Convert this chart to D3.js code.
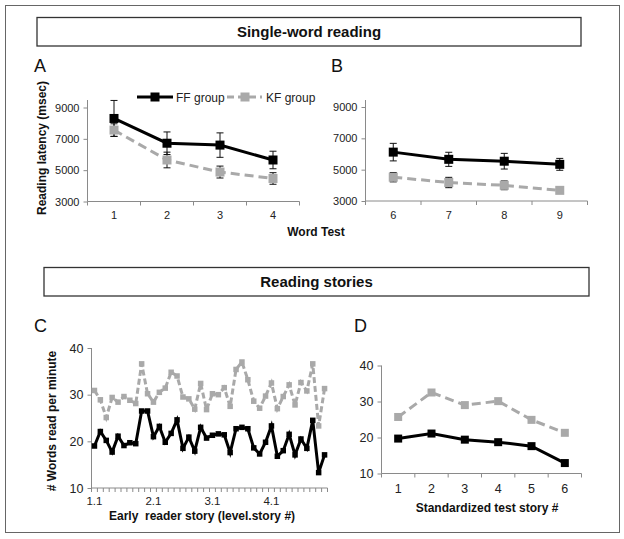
<!DOCTYPE html>
<html><head><meta charset="utf-8">
<script src="https://cdn.jsdelivr.net/npm/d3@7"></script>
<style>
html,body{margin:0;padding:0;background:#fff;}
svg{display:block;font-family:"Liberation Sans",Arial,sans-serif;}
</style></head>
<body><svg id="c" width="624" height="539"></svg>
<script>
// ---------- DATA ----------
const groups = ["FF group", "KF group"];
const wordTestsA = ["1", "2", "3", "4"];
const wordTestsB = ["6", "7", "8", "9"];
const ffA = [8300, 6720, 6600, 5650];
const ffAerr = [1150, 720, 780, 560];
const kfA = [7560, 5650, 4880, 4470];
const kfAerr = [400, 500, 380, 370];
const ffB = [6120, 5660, 5540, 5340];
const ffBerr = [560, 450, 500, 380];
const kfB = [4520, 4180, 4000, 3680];
const kfBerr = [300, 330, 280, 200];
const latencyTicks = [3000, 5000, 7000, 9000];

const storiesC = [];
[1, 2, 3, 4].forEach(l => { for (let s = 1; s <= 10; s++) storiesC.push(l + "." + s); });
const storyTickLabels = ["1.1", "2.1", "3.1", "4.1"];
const ffC = [19.0,22.1,20.2,17.7,21.1,19.1,19.7,19.5,26.5,26.5,
             21.0,23.2,19.8,21.7,24.6,18.5,20.9,17.9,23.0,20.7,
             21.3,21.6,21.4,17.6,22.7,23.0,22.7,18.6,17.3,19.8,
             23.3,16.8,18.0,21.5,17.1,20.5,18.5,24.5,13.3,17.1];
const kfC = [30.9,28.9,25.1,29.4,28.4,29.6,28.8,28.1,36.6,30.2,
             28.4,30.5,31.4,34.8,34.0,29.5,29.1,26.9,32.4,26.8,
             30.2,30.0,31.5,27.5,35.4,37.0,33.2,28.6,27.1,29.7,
             32.5,27.0,29.6,32.1,27.8,32.6,30.8,36.6,23.3,31.3];
const storiesD = ["1", "2", "3", "4", "5", "6"];
const ffD = [19.7, 21.1, 19.4, 18.7, 17.6, 12.9];
const kfD = [25.7, 32.5, 29.0, 30.1, 24.9, 21.3];
const wpmTicks = [10, 20, 30, 40];

// ---------- STYLE ----------
const BLACK = "#000", GRAY = "#a9a9a9", AXIS = "#8a8a8a", TEXT = "#222";
const svg = d3.select("#c");
svg.append("rect").attr("width", 624).attr("height", 539).attr("fill", "#fff");
svg.append("rect").attr("x", 5.5).attr("y", 5.5).attr("width", 614).attr("height", 527)
  .attr("fill", "none").attr("stroke", "#666").attr("stroke-width", 1);

function header(x, y, w, h, text) {
  svg.append("rect").attr("x", x).attr("y", y).attr("width", w).attr("height", h)
    .attr("fill", "#fff").attr("stroke", "#333").attr("stroke-width", 1.3);
  svg.append("text").attr("x", x + w / 2).attr("y", y + h / 2 + 5)
    .attr("text-anchor", "middle").attr("font-size", 15).attr("font-weight", "bold")
    .attr("fill", "#111").text(text);
}
header(37, 17.5, 544, 28.5, "Single-word reading");
header(44, 267.5, 545, 28.5, "Reading stories");

function panelLabel(x, y, t) {
  svg.append("text").attr("x", x).attr("y", y).attr("font-size", 18).attr("fill", "#111").text(t);
}
panelLabel(34, 72, "A");
panelLabel(331, 72, "B");
panelLabel(34, 332, "C");
panelLabel(354, 332, "D");

function panel(o) {
  const g = svg.append("g");
  const x = d3.scaleBand().domain(o.cats).range([o.x0, o.x1]);
  const y = d3.scaleLinear().domain(o.yDomain).range([o.yBottom, o.yTop]);
  // y axis
  const ya = d3.axisLeft(y).tickValues(o.yTicks).tickSize(4).tickPadding(4)
    .tickFormat(d3.format("d"));
  const yg = g.append("g").attr("transform", `translate(${o.x0},0)`).call(ya);
  yg.select(".domain").remove();
  g.append("line").attr("x1", o.x0).attr("x2", o.x0)
    .attr("y1", o.yBottom).attr("y2", o.axisTop !== undefined ? o.axisTop : o.yTop)
    .attr("stroke", AXIS);
  yg.selectAll(".tick line").attr("stroke", AXIS);
  yg.selectAll(".tick text").attr("font-size", o.yFont).attr("fill", TEXT)
    .attr("font-family", '"Liberation Sans",Arial,sans-serif');
  // x axis: line + boundary ticks + labels
  g.append("line").attr("x1", o.x0).attr("x2", o.x1).attr("y1", o.yBottom).attr("y2", o.yBottom)
    .attr("stroke", AXIS);
  const bounds = o.cats.map(c => x(c)).concat([o.x1]);
  g.selectAll(".bt").data(bounds).enter().append("line")
    .attr("x1", d => d).attr("x2", d => d).attr("y1", o.yBottom).attr("y2", o.yBottom + 4)
    .attr("stroke", AXIS);
  const labelCats = o.labelCats || o.cats;
  g.selectAll(".xl").data(labelCats).enter().append("text")
    .attr("x", d => x(d) + x.bandwidth() / 2).attr("y", o.xLabelY)
    .attr("text-anchor", "middle").attr("font-size", o.xFont).attr("fill", TEXT).text(d => d);

  const line = d3.line().x((d, i) => x(o.cats[i]) + x.bandwidth() / 2).y(d => y(d));
  const series = [
    { v: o.kf, e: o.kfErr, color: GRAY, dash: o.dash },
    { v: o.ff, e: o.ffErr, color: BLACK, dash: null }
  ];
  series.forEach(s => {
    if (s.e) {
      s.v.forEach((v, i) => {
        const cx = x(o.cats[i]) + x.bandwidth() / 2;
        g.append("line").attr("x1", cx).attr("x2", cx).attr("y1", y(v - s.e[i])).attr("y2", y(v + s.e[i]))
          .attr("stroke", "#111").attr("stroke-width", 1);
        [v - s.e[i], v + s.e[i]].forEach(w => {
          g.append("line").attr("x1", cx - 3.5).attr("x2", cx + 3.5).attr("y1", y(w)).attr("y2", y(w))
            .attr("stroke", "#111").attr("stroke-width", 1);
        });
      });
    }
  });
  series.forEach(s => {
    g.append("path").datum(s.v).attr("d", line).attr("fill", "none").attr("stroke", s.color)
      .attr("stroke-width", o.lw).attr("stroke-dasharray", s.dash).attr("stroke-linejoin", "miter");
    g.selectAll(null).data(s.v).enter().append("rect")
      .attr("x", (d, i) => x(o.cats[i]) + x.bandwidth() / 2 - o.ms / 2)
      .attr("y", d => y(d) - o.ms / 2).attr("width", o.ms).attr("height", o.ms).attr("fill", s.color);
  });
  return { x, y };
}

// Panel A
panel({ cats: wordTestsA, x0: 87.5, x1: 299.5, yDomain: [3000, 9000], yBottom: 201.5, yTop: 107.5,
  axisTop: 100, yTicks: latencyTicks, yFont: 11, xFont: 11, xLabelY: 219,
  ff: ffA, ffErr: ffAerr, kf: kfA, kfErr: kfAerr, lw: 3, ms: 9, dash: "9,5" });
// Panel B
panel({ cats: wordTestsB, x0: 365.5, x1: 587.5, yDomain: [3000, 9000], yBottom: 201, yTop: 107,
  axisTop: 100, yTicks: latencyTicks, yFont: 11, xFont: 11, xLabelY: 219,
  ff: ffB, ffErr: ffBerr, kf: kfB, kfErr: kfBerr, lw: 3, ms: 9, dash: "9,5" });
// Panel C
panel({ cats: storiesC, x0: 91.5, x1: 327.5, yDomain: [10, 40], yBottom: 488, yTop: 348,
  yTicks: wpmTicks, yFont: 12.5, xFont: 11.5, xLabelY: 505, labelCats: storyTickLabels,
  ff: ffC, kf: kfC, lw: 3, ms: 5.5, dash: "6,3" });
// Panel D
panel({ cats: storiesD, x0: 381.5, x1: 581.5, yDomain: [10, 40], yBottom: 473.5, yTop: 365.5,
  yTicks: wpmTicks, yFont: 12.5, xFont: 12.5, xLabelY: 492.5,
  ff: ffD, kf: kfD, lw: 3, ms: 8, dash: "9,5" });

// Axis titles
function title(x, y, t, rot) {
  const el = svg.append("text").attr("text-anchor", "middle").attr("font-size", 12)
    .attr("font-weight", "bold").attr("fill", "#111").attr("xml:space", "preserve")
    .style("white-space", "pre").text(t);
  if (rot) el.attr("transform", `translate(${x},${y}) rotate(-90)`);
  else el.attr("x", x).attr("y", y);
}
title(46, 148, "Reading latency (msec)", true);
title(316, 236, "Word Test", false);
title(56, 421, "# Words read per minute", true);
title(202, 519.5, "Early  reader story (level.story #)", false);
title(487, 512, "Standardized test story #", false);

// Legend
const leg = svg.append("g");
leg.append("line").attr("x1", 137).attr("x2", 173).attr("y1", 97).attr("y2", 97)
  .attr("stroke", BLACK).attr("stroke-width", 3);
leg.append("rect").attr("x", 155 - 4.5).attr("y", 97 - 4.5).attr("width", 9).attr("height", 9).attr("fill", BLACK);
leg.append("text").attr("x", 176).attr("y", 101.5).attr("font-size", 12).attr("fill", TEXT).text(groups[0]);
leg.append("line").attr("x1", 227).attr("x2", 262).attr("y1", 97).attr("y2", 97)
  .attr("stroke", GRAY).attr("stroke-width", 3).attr("stroke-dasharray", "7,4");
leg.append("rect").attr("x", 245 - 4.5).attr("y", 97 - 4.5).attr("width", 9).attr("height", 9).attr("fill", GRAY);
leg.append("text").attr("x", 266).attr("y", 101.5).attr("font-size", 12).attr("fill", TEXT).text(groups[1]);
</script></body></html>
